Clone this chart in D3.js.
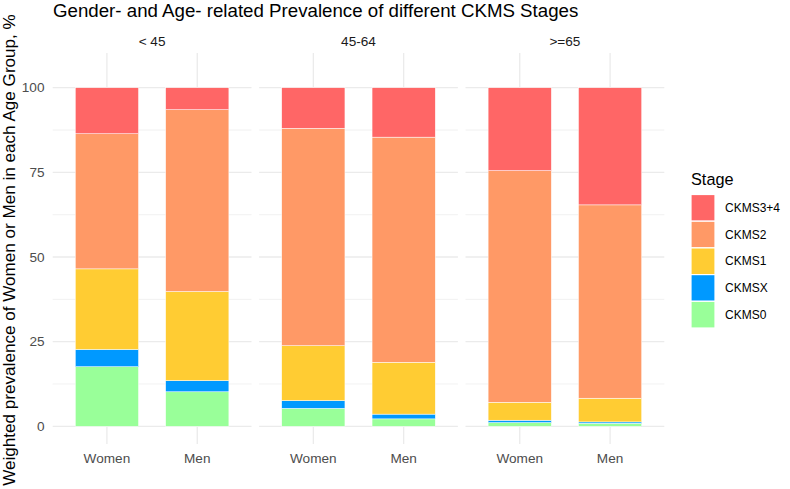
<!DOCTYPE html>
<html lang="en">
<head>
<meta charset="UTF-8">
<title>CKMS stages</title>
<style>
  body { margin: 0; background: #fff; }
  svg text { font-family: "Liberation Sans", Arial, sans-serif; }
</style>
</head>
<body>
<svg id="chart" width="790" height="489"></svg>
<script src="https://cdn.jsdelivr.net/npm/d3@7"></script>
<script>
// data, bar order: < 45 Women, < 45 Men, 45-64 Women, 45-64 Men, >=65 Women, >=65 Men
var ageGroups = ['< 45', '45-64', '>=65'];
var sexes = ['Women', 'Men'];
var stages = ['CKMS0', 'CKMSX', 'CKMS1', 'CKMS2', 'CKMS3+4'];
var ckms0 = [17.6, 10.2, 5.3, 2.2, 1.1, 0.9];
var ckmsx = [5.1, 3.3, 2.3, 1.4, 0.7, 0.4];
var ckms1 = [23.8, 26.3, 16.2, 15.3, 5.3, 7.0];
var ckms2 = [39.9, 53.7, 64.2, 66.5, 68.4, 57.1];
var ckms34 = [13.6, 6.5, 12.0, 14.6, 24.5, 34.6];
var yTicks = [0, 25, 50, 75, 100];
var colors = ['#99FF99', '#0099FF', '#FFCC33', '#FF9966', '#FF6666'];

var rows = [];
ageGroups.forEach(function (a, i) {
  sexes.forEach(function (s, j) {
    var k = i * 2 + j;
    rows.push({ age: a, sex: s, CKMS0: ckms0[k], CKMSX: ckmsx[k], CKMS1: ckms1[k], CKMS2: ckms2[k], 'CKMS3+4': ckms34[k] });
  });
});

var svg = d3.select('#chart');
var panelTop = 53, panelBottom = 444.1;

var facet = d3.scaleBand().domain(ageGroups).range([52.7, 664.3]).paddingInner(0.037);
var x = d3.scaleBand().domain(sexes).range([0, facet.bandwidth()]).paddingInner(0.3).paddingOuter(0.25);
var y = d3.scaleLinear().domain([-5.25, 110.25]).range([panelBottom, panelTop]);
var color = d3.scaleOrdinal().domain(stages).range(colors);

var series = d3.stack().keys(stages)(rows);

// title
svg.append('text').attr('x', 53).attr('y', 17).attr('font-size', 18.7).attr('fill', '#000')
  .text('Gender- and Age- related Prevalence of different CKMS Stages');

// y axis title
svg.append('text')
  .attr('transform', 'translate(15,250) rotate(-90)')
  .attr('text-anchor', 'middle').attr('font-size', 17.1).attr('fill', '#000')
  .text('Weighted prevalence of Women or Men in each Age Group, %');

// y tick labels
svg.selectAll('.ytick').data(yTicks).enter().append('text')
  .attr('class', 'ytick')
  .attr('x', 44.5).attr('y', function (d) { return y(d); }).attr('dy', '0.35em')
  .attr('text-anchor', 'end').attr('font-size', 13.6).attr('fill', '#4D4D4D')
  .text(function (d) { return d; });

ageGroups.forEach(function (age, i) {
  var g = svg.append('g').attr('transform', 'translate(' + facet(age) + ',0)');
  var w = facet.bandwidth();

  // minor grid
  g.selectAll('.minor').data([12.5, 37.5, 62.5, 87.5]).enter().append('line')
    .attr('x1', 0).attr('x2', w)
    .attr('y1', function (d) { return y(d); }).attr('y2', function (d) { return y(d); })
    .attr('stroke', '#EBEBEB').attr('stroke-width', 0.7);
  // major grid
  g.selectAll('.major').data(yTicks).enter().append('line')
    .attr('x1', 0).attr('x2', w)
    .attr('y1', function (d) { return y(d); }).attr('y2', function (d) { return y(d); })
    .attr('stroke', '#EBEBEB').attr('stroke-width', 1.3);
  g.selectAll('.vgrid').data(sexes).enter().append('line')
    .attr('x1', function (d) { return x(d) + x.bandwidth() / 2; })
    .attr('x2', function (d) { return x(d) + x.bandwidth() / 2; })
    .attr('y1', panelTop).attr('y2', panelBottom)
    .attr('stroke', '#EBEBEB').attr('stroke-width', 1.3);

  // strip
  g.append('text').attr('x', w / 2).attr('y', 46)
    .attr('text-anchor', 'middle').attr('font-size', 13.6).attr('fill', '#1A1A1A')
    .text(age);

  // bars
  series.forEach(function (s) {
    g.selectAll(null).data(s.filter(function (d) { return d.data.age === age; })).enter().append('rect')
      .attr('x', function (d) { return x(d.data.sex); })
      .attr('width', x.bandwidth())
      .attr('y', function (d) { return y(d[1]); })
      .attr('height', function (d) { return y(d[0]) - y(d[1]); })
      .attr('fill', color(s.key))
      .attr('stroke', '#fff').attr('stroke-width', 0.5);
  });

  // x labels
  g.selectAll('.xlab').data(sexes).enter().append('text')
    .attr('x', function (d) { return x(d) + x.bandwidth() / 2; })
    .attr('y', 463)
    .attr('text-anchor', 'middle').attr('font-size', 13.6).attr('fill', '#4D4D4D')
    .text(function (d) { return d; });
});

// legend
var legend = svg.append('g').attr('transform', 'translate(691,0)');
legend.append('text').attr('x', 0).attr('y', 185)
  .attr('font-size', 16.3).attr('fill', '#000').text('Stage');
var legendStages = stages.slice().reverse();
var item = legend.selectAll('.item').data(legendStages).enter().append('g')
  .attr('transform', function (d, i) { return 'translate(0,' + (194.5 + i * 26.7) + ')'; });
item.append('rect').attr('width', 24).attr('height', 26.7)
  .attr('fill', function (d) { return color(d); })
  .attr('stroke', '#fff').attr('stroke-width', 1.2);
item.append('text').attr('x', 34).attr('y', 13.35).attr('dy', '0.35em')
  .attr('font-size', 12).attr('fill', '#000')
  .text(function (d) { return d; });
</script>
</body>
</html>
